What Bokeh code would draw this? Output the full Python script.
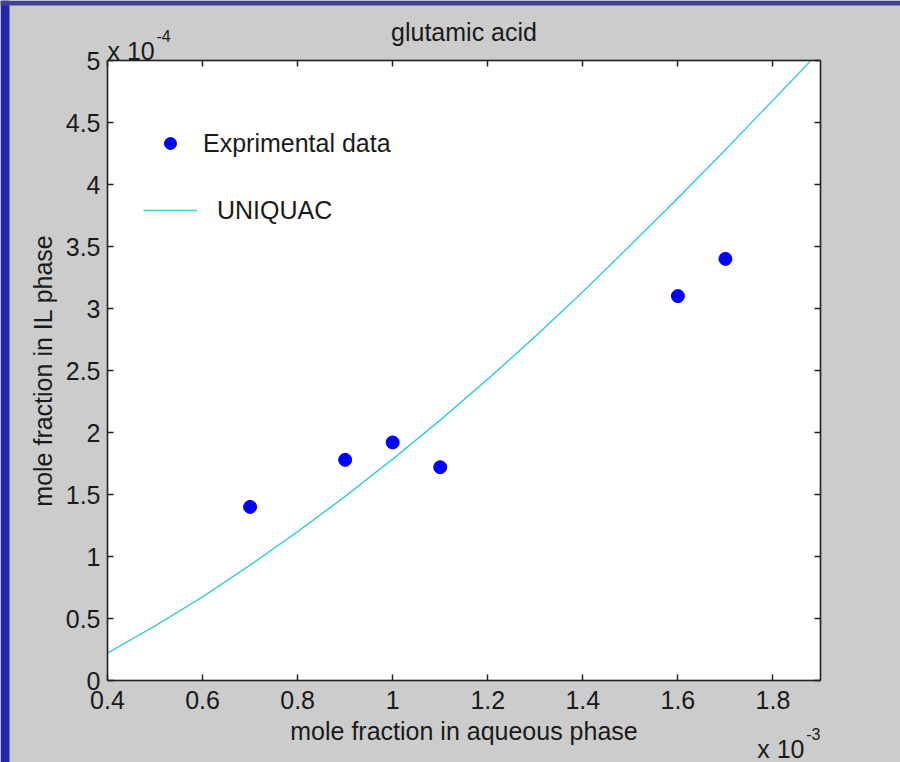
from bokeh.plotting import figure
from bokeh.models import (LinearAxis, FixedTicker, Range1d, Label, Legend,
                          LegendItem, BoxAnnotation)
from bokeh.embed import file_html
from bokeh.resources import INLINE

# x values in units of 1e-3, y values in units of 1e-4
exp_x = [0.7, 0.9, 1.0, 1.1, 1.6, 1.7]
exp_y = [1.40, 1.78, 1.92, 1.72, 3.10, 3.40]

uniquac_x = [0.40, 0.50, 0.60, 0.70, 0.80, 0.90, 1.00, 1.10, 1.20, 1.30,
             1.40, 1.50, 1.60, 1.70, 1.80, 1.88]
uniquac_y = [0.22, 0.44, 0.675, 0.93, 1.20, 1.485, 1.785, 2.10, 2.43, 2.775,
             3.135, 3.51, 3.89, 4.28, 4.68, 5.00]

x_ticks = [0.4, 0.6, 0.8, 1.0, 1.2, 1.4, 1.6, 1.8]
x_tick_labels = ["0.4", "0.6", "0.8", "1", "1.2", "1.4", "1.6", "1.8"]
y_ticks = [0, 0.5, 1, 1.5, 2, 2.5, 3, 3.5, 4, 4.5, 5]
y_tick_labels = ["0", "0.5", "1", "1.5", "2", "2.5", "3", "3.5", "4", "4.5", "5"]

X_LIM = (0.4, 1.9)
Y_LIM = (0.0, 5.0)

FONT = "Liberation Sans"
FS = "25px"
TXT = "#1a1a1a"
AX = "#222222"

# Canvas layout: axes box at x 107..820 px, y 60..680 px of a 900x762 canvas
W, H = 900, 762
BOX_L, BOX_R, BOX_T, BOX_B = 107, 820, 60, 680
sx = (X_LIM[1] - X_LIM[0]) / (BOX_R - BOX_L)
sy = (Y_LIM[1] - Y_LIM[0]) / (BOX_B - BOX_T)
x_range = Range1d(X_LIM[0] - BOX_L * sx, X_LIM[1] + (W - BOX_R) * sx)
y_range = Range1d(Y_LIM[0] - (H - BOX_B) * sy, Y_LIM[1] + BOX_T * sy)

p = figure(width=W, height=H, output_backend="svg", toolbar_location=None,
           x_range=x_range, y_range=y_range, x_axis_type=None, y_axis_type=None,
           min_border=0)
p.background_fill_color = "#cccccc"
p.border_fill_color = "#cccccc"
p.outline_line_color = None
p.grid.visible = False

# slide border strips (left and top), in screen pixels
p.add_layout(BoxAnnotation(left=0, right=9, left_units="screen", right_units="screen",
                           fill_color="#2626aa", fill_alpha=1.0, line_color=None,
                           level="underlay"))
p.add_layout(BoxAnnotation(bottom=H - 5, top=H, bottom_units="screen", top_units="screen",
                           fill_color="#44448a", fill_alpha=1.0, line_color=None,
                           level="underlay"))

p.add_layout(BoxAnnotation(left=X_LIM[0], right=X_LIM[1], bottom=Y_LIM[0], top=Y_LIM[1],
                           fill_color="white", fill_alpha=1.0, line_color=AX,
                           line_width=1.5, level="underlay"))

def make_axis(ticks, tick_labels, loc, bounds):
    ax = LinearAxis(ticker=FixedTicker(ticks=ticks), fixed_location=loc, bounds=bounds)
    ax.major_label_overrides = dict(zip(ticks, tick_labels))
    ax.axis_line_color = AX
    ax.axis_line_width = 1.5
    ax.major_tick_line_color = AX
    ax.major_tick_line_width = 1.5
    ax.major_tick_in = 6
    ax.major_tick_out = 0
    ax.minor_tick_line_color = None
    ax.major_label_text_font = FONT
    ax.major_label_text_font_size = FS
    ax.major_label_text_color = TXT
    ax.axis_label_text_font = FONT
    ax.axis_label_text_font_size = FS
    ax.axis_label_text_font_style = "normal"
    ax.axis_label_text_color = TXT
    return ax

xa = make_axis(x_ticks, x_tick_labels, Y_LIM[0], X_LIM)
xa.axis_label = "mole fraction in aqueous phase"
xa.major_label_standoff = 10
xa.axis_label_standoff = 5
p.add_layout(xa, "below")

ya = make_axis(y_ticks, y_tick_labels, X_LIM[0], Y_LIM)
ya.axis_label = "mole fraction in IL phase"
ya.major_label_standoff = 7
ya.axis_label_standoff = 6
p.add_layout(ya, "left")

# box axes on top and right: ticks only, no labels
p.add_layout(make_axis(x_ticks, [""] * len(x_ticks), Y_LIM[1], X_LIM), "above")
p.add_layout(make_axis(y_ticks, [""] * len(y_ticks), X_LIM[1], Y_LIM), "right")

r_line = p.line(uniquac_x, uniquac_y, line_color="#3fcfcf", line_width=1.5)
r_pts = p.scatter(exp_x, exp_y, size=13, fill_color="#0000ff", line_color="#0000ff")

def make_legend(item, loc, standoff):
    lg = Legend(items=[item], location=loc, padding=0, margin=0, spacing=0,
                glyph_width=54, glyph_height=30, label_height=30,
                label_standoff=standoff, border_line_color=None,
                background_fill_alpha=0, label_text_font=FONT,
                label_text_font_size=FS, label_text_color=TXT)
    p.add_layout(lg, "center")

# legend locations: (px from frame left, px from frame bottom to legend bottom)
make_legend(LegendItem(label="Exprimental data", renderers=[r_pts]), (143, 604), 6)
make_legend(LegendItem(label="UNIQUAC", renderers=[r_line]), (143, 537), 20)

def add_text(x, y, text, size=FS, align="left", baseline="alphabetic", dx=0, dy=0):
    p.add_layout(Label(x=x, y=y, text=text, text_font=FONT, text_font_size=size,
                       text_color=TXT, text_align=align, text_baseline=baseline,
                       x_offset=dx, y_offset=dy))

add_text((X_LIM[0] + X_LIM[1]) / 2, Y_LIM[1], "glutamic acid", align="center",
         baseline="middle", dy=29)
add_text(X_LIM[0], Y_LIM[1], "x 10", dy=10)
add_text(X_LIM[0], Y_LIM[1], "-4", size="16px", dx=49, dy=25)
add_text(X_LIM[1], Y_LIM[0], "x 10", align="right", dx=-16, dy=-68)
add_text(X_LIM[1], Y_LIM[0], "-3", size="16px", align="right", dy=-53)

open("out.html", "w").write(file_html(p, INLINE))
